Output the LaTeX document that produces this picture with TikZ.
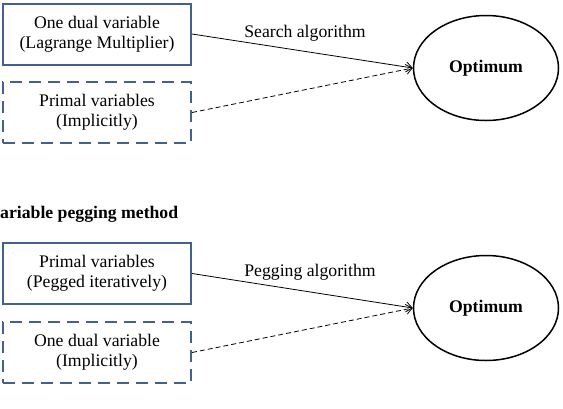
\documentclass[tikz,border=0pt]{standalone}
\usepackage{fontspec}
\setmainfont{Liberation Serif}
\usetikzlibrary{positioning,arrows.meta,shapes.geometric}
\definecolor{boxc}{HTML}{41618F}

\begin{document}
\begin{tikzpicture}[x=1pt, y=-1pt,
  every node/.style={font=\fontsize{17.7}{20}\selectfont},
  varbox/.style={rectangle, draw=boxc, line width=2pt, minimum width=188pt,
                 minimum height=61pt, inner sep=0pt, align=center},
  implbox/.style={varbox, dash pattern=on 12pt off 7pt},
  goal/.style={ellipse, draw, line width=1.5pt, minimum width=145pt,
               minimum height=105pt,
               font=\fontsize{17.7}{20}\selectfont\bfseries},
  >={Straight Barb[length=6pt,width=10pt]}
]
\useasboundingbox (0,0) rectangle (563,408);
% ---- Panel (a): search on the dual variable ----
\begin{scope}
  \node[varbox]  (dual)   at (97,34)    {One dual variable\\(Lagrange Multiplier)};
  \node[implbox] (primal) at (97,112.5) {Primal variables\\(Implicitly)};
  \node[goal]    (opt)    at (486,68)   {Optimum};
  \draw[->, line width=0.8pt] (dual.east) -- (opt.west);
  \draw[->, line width=0.8pt, dash pattern=on 5pt off 3pt] (primal.east) -- (opt.west);
  \node[anchor=base] (srch) at (305,37) {Search algorithm};
\end{scope}
% ---- heading of panel (b) ----
\node[anchor=base west, inner sep=0pt, font=\fontsize{17.7}{20}\selectfont\bfseries]
  (head) at (0,218) {ariable pegging method};
% ---- Panel (b): pegging the primal variables ----
\begin{scope}[yshift=-240pt]
  \node[varbox]  (primalp) at (97,33.5)  {Primal variables\\(Pegged iteratively)};
  \node[implbox] (dualp)   at (97,112.5) {One dual variable\\(Implicitly)};
  \node[goal]    (optp)    at (486,68)   {Optimum};
  \draw[->, line width=0.8pt] (primalp.east) -- (optp.west);
  \draw[->, line width=0.8pt, dash pattern=on 5pt off 3pt] (dualp.east) -- (optp.west);
  \node[anchor=base] (pegg) at (310,36) {Pegging algorithm};
\end{scope}
\end{tikzpicture}
\end{document}
